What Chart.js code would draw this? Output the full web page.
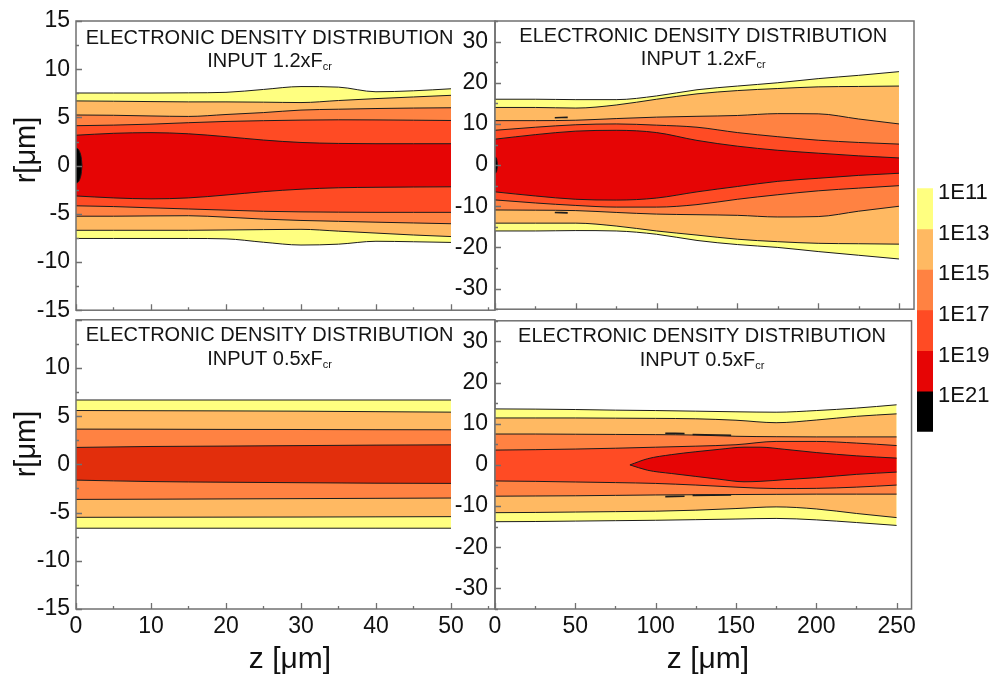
<!DOCTYPE html>
<html>
<head>
<meta charset="utf-8">
<title>Electronic density distribution</title>
<script src="https://cdn.jsdelivr.net/npm/chart.js@4.4.1/dist/chart.umd.min.js"></script>
<style>
  html, body { margin: 0; padding: 0; background: #fff; }
  #page { position: relative; width: 994px; height: 677px; overflow: hidden; background: #fff; }
  #page canvas { position: absolute; }
  .axis-title { position: absolute; font-family: "Liberation Sans", Arial, sans-serif; color: #111; white-space: nowrap; line-height: 1; }
</style>
</head>
<body>
<div id="page">
  <canvas id="tl" width="500" height="330" style="left:0;top:0"></canvas>
  <canvas id="bl" width="500" height="377" style="left:0;top:300px"></canvas>
  <canvas id="tr" width="480" height="330" style="left:440px;top:0"></canvas>
  <canvas id="br" width="480" height="377" style="left:440px;top:300px"></canvas>
  <canvas id="bar" width="89" height="280" style="left:905px;top:170px"></canvas>
  <div class="axis-title" style="font-size:29px;left:25px;top:150px;transform:translate(-50%,-50%) rotate(-90deg)">r[μm]</div>
  <div class="axis-title" style="font-size:29px;left:25px;top:444px;transform:translate(-50%,-50%) rotate(-90deg)">r[μm]</div>
  <div class="axis-title" style="font-size:30px;left:290px;top:658px;transform:translate(-50%,-50%)">z [μm]</div>
  <div class="axis-title" style="font-size:30px;left:708px;top:658px;transform:translate(-50%,-50%)">z [μm]</div>
</div>
<script>
// --- contour data: r [μm] of each iso-density line, outermost level first ---
const levelLabels = ['1E11', '1E13', '1E15', '1E17', '1E19', '1E21'];
const levelExp = [11, 13, 15, 17, 19, 21];

// input 1.2xFcr, z = 0..50 μm
const zTL = [0, 5, 10, 15, 20, 25, 30, 35, 40, 45, 50];
const tlUpper = [
  [7.53, 7.53, 7.53, 7.55, 7.6, 7.9, 8.2, 8.14, 7.66, 7.76, 7.97],
  [6.71, 6.68, 6.64, 6.61, 6.61, 6.58, 6.54, 6.75, 6.95, 7.12, 7.29],
  [5.25, 5.22, 5.15, 5.1, 5.3, 5.5, 5.76, 5.85, 5.92, 5.97, 6.0],
  [4.14, 4.2, 4.3, 4.45, 4.58, 4.66, 4.72, 4.75, 4.74, 4.71, 4.68],
  [3.15, 3.35, 3.42, 3.3, 3.0, 2.65, 2.4, 2.3, 2.27, 2.27, 2.27]
];
const tlLower = [
  [-7.56, -7.56, -7.56, -7.56, -7.6, -7.95, -8.24, -8.15, -7.85, -7.9, -7.97],
  [-6.71, -6.71, -6.71, -6.71, -6.68, -6.64, -6.61, -6.8, -7.0, -7.2, -7.36],
  [-5.25, -5.25, -5.22, -5.2, -5.35, -5.55, -5.69, -5.78, -5.87, -5.95, -6.03],
  [-4.17, -4.25, -4.38, -4.5, -4.62, -4.74, -4.8, -4.83, -4.85, -4.85, -4.85],
  [-3.15, -3.35, -3.45, -3.35, -3.05, -2.7, -2.45, -2.3, -2.25, -2.22, -2.2]
];
// 1E21 core at the entrance face
const zTLCore = [0, 0.3, 0.55, 0.7, 0.8];
const tlCoreUpper = [1.8, 1.7, 1.3, 0.8, 0];
const tlCoreLower = [-1.8, -1.7, -1.3, -0.8, 0];

// input 1.2xFcr, z = 0..250 μm
const zTR = [0, 25, 50, 75, 100, 125, 150, 175, 200, 225, 250];
const trUpper = [
  [16.0, 16.0, 15.9, 15.9, 16.8, 18.3, 19.2, 20.0, 21.0, 21.8, 22.7],
  [14.0, 14.0, 13.85, 14.6, 16.0, 17.3, 18.1, 18.6, 19.0, 19.1, 19.2],
  [10.8, 10.8, 10.9, 11.3, 11.65, 11.85, 12.05, 12.5, 12.45, 11.2, 10.0],
  [8.46, 9.2, 9.8, 10.0, 9.7, 9.2, 7.9, 6.9, 6.05, 5.5, 5.1],
  [6.3, 7.4, 8.25, 8.45, 7.9, 6.0, 4.6, 3.6, 2.9, 2.25, 1.74]
];
const trLower = [
  [-16.0, -16.0, -15.9, -16.0, -16.8, -18.3, -19.3, -20.0, -21.0, -21.9, -22.8],
  [-14.1, -14.1, -14.1, -14.8, -16.0, -17.0, -18.0, -18.6, -19.0, -19.1, -19.2],
  [-10.9, -10.95, -11.05, -11.5, -11.9, -12.05, -12.2, -12.6, -12.5, -11.2, -10.0],
  [-8.46, -9.2, -9.8, -10.2, -10.2, -9.6, -8.3, -7.2, -6.25, -5.6, -5.0],
  [-6.5, -7.5, -8.3, -8.5, -8.0, -6.5, -5.2, -3.95, -3.2, -2.5, -1.98]
];
const zTRCore = [0, 1, 1.6];
const trCoreUpper = [2.0, 1.5, 0];
const trCoreLower = [-2.0, -1.5, 0];
// small closed 1E15 islands
const zTRIsland = [37, 45];
const trIslandUpper = [11.5, 11.6];
const trIslandLower = [-11.5, -11.6];

// input 0.5xFcr, z = 0..50 μm
const zBL = [0, 10, 20, 30, 40, 50];
const blUpper = [
  [6.68, 6.68, 6.68, 6.68, 6.68, 6.68],
  [5.59, 5.57, 5.55, 5.52, 5.47, 5.42],
  [3.66, 3.65, 3.63, 3.62, 3.6, 3.59],
  [1.76, 1.86, 1.9, 1.95, 2.0, 2.03]
];
const blLower = [
  [-6.62, -6.62, -6.62, -6.62, -6.62, -6.62],
  [-5.49, -5.48, -5.47, -5.46, -5.44, -5.42],
  [-3.63, -3.61, -3.58, -3.55, -3.52, -3.49],
  [-1.63, -1.78, -1.85, -1.9, -1.95, -1.97]
];

// input 0.5xFcr, z = 0..250 μm
const zBR = [0, 25, 50, 75, 100, 125, 150, 175, 200, 225, 250];
const brUpper = [
  [13.6, 13.55, 13.45, 13.3, 13.2, 13.05, 12.9, 12.8, 13.2, 13.8, 14.6],
  [11.4, 11.4, 11.4, 11.35, 11.3, 11.2, 10.85, 10.25, 10.9, 11.8, 12.4],
  [7.5, 7.5, 7.45, 7.4, 7.35, 7.25, 6.95, 6.85, 6.8, 6.8, 6.8],
  [3.6, 3.7, 3.85, 4.05, 4.3, 4.55, 4.9, 5.7, 5.7, 5.3, 4.7]
];
const brLower = [
  [-13.8, -13.75, -13.65, -13.55, -13.45, -13.3, -13.15, -13.0, -13.35, -14.0, -14.7],
  [-11.6, -11.55, -11.45, -11.35, -11.25, -11.0, -10.6, -10.2, -10.7, -11.8, -12.8],
  [-7.6, -7.55, -7.5, -7.4, -7.3, -7.25, -7.2, -7.15, -7.1, -7.1, -7.1],
  [-3.9, -4.0, -4.15, -4.3, -4.5, -4.9, -5.4, -5.75, -5.7, -5.4, -4.9]
];
// 1E19 lens that opens after z ≈ 84 μm
const zBRLens = [84, 95, 110, 125, 140, 155, 165, 180, 200, 225, 250];
const brLensUpper = [0, 1.5, 2.5, 3.2, 3.8, 4.3, 4.3, 3.8, 3.0, 2.2, 1.65];
const brLensLower = [0, -1.3, -2.1, -2.8, -3.5, -4.1, -4.0, -3.6, -3.1, -2.3, -1.75];
const zBRIslandA = [106, 118];
const zBRIslandB = [123, 147];
const brIslandAUpper = [7.7, 7.6];
const brIslandBUpper = [7.4, 7.2];
const brIslandALower = [-7.7, -7.6];
const brIslandBLower = [-7.4, -7.3];

// axis ticks
const zTicksLeft = [0, 10, 20, 30, 40, 50];
const zTicksRight = [0, 50, 100, 150, 200, 250];
const rTicksLeftTop = [15, 10, 5, 0, -5, -10, -15];
const rTicksLeftBottom = [10, 5, 0, -5, -10, -15];
const rTicksRight = [30, 20, 10, 0, -10, -20, -30];

// --- styling ---
const FONT = '"Liberation Sans", Arial, Helvetica, sans-serif';
const LINE = '#1c1c1c';
const FRAME = '#707070';
const bandColors = ['#FFFF80', '#FFB962', '#FF8242', '#FF4B24', '#E60505', '#000000'];
const lowBandColors = ['#FFFF80', '#FFB962', '#FF8242', '#E22E0C'];
const TITLE = 'ELECTRONIC DENSITY DISTRIBUTION';

function lineSet(z, r, extra) {
  return Object.assign({
    data: z.map((v, i) => ({ x: v, y: r[i] })),
    borderColor: LINE,
    borderWidth: 1,
    pointRadius: 0,
    cubicInterpolationMode: 'monotone',
    fill: false
  }, extra);
}

// upper line filled down to its lower partner
function addBand(sets, z, up, lo, color, order) {
  const i = sets.length;
  sets.push(lineSet(z, up, { fill: i + 1, backgroundColor: color, order }));
  sets.push(lineSet(z, lo, { order }));
}

function contourSets(z, upper, lower, colors) {
  const sets = [];
  upper.forEach((row, k) => addBand(sets, z, row, lower[k], colors[k], upper.length - k + 1));
  return sets;
}

// frame box + inward tick marks
const panelFrame = {
  id: 'panelFrame',
  afterDatasetsDraw(chart, args, o) {
    const { ctx, chartArea: a, scales: { x, y } } = chart;
    const isMajor = (v, step) => Math.abs(v / step - Math.round(v / step)) < 1e-6;
    ctx.save();
    ctx.strokeStyle = FRAME;
    ctx.lineWidth = 1.3;
    ctx.beginPath();
    for (let v = x.min; v <= x.max + 1e-6; v += o.zMinor) {
      const px = Math.round(x.getPixelForValue(v)) + 0.5;
      const len = isMajor(v, o.zMajor) ? 6 : 3;
      ctx.moveTo(px, a.bottom);
      ctx.lineTo(px, a.bottom - len);
    }
    for (let v = Math.ceil(y.min / o.rMinor) * o.rMinor; v <= y.max + 1e-6; v += o.rMinor) {
      const py = Math.round(y.getPixelForValue(v)) + 0.5;
      const len = isMajor(v, o.rMajor) ? 6 : 3;
      ctx.moveTo(a.left, py);
      ctx.lineTo(a.left + len, py);
    }
    ctx.stroke();
    ctx.lineWidth = 1.5;
    ctx.strokeRect(a.left, a.top, a.right - a.left, a.bottom - a.top);
    ctx.restore();
  }
};

// two-line heading inside the plot, with the "cr" subscript
const panelTitle = {
  id: 'panelTitle',
  afterDraw(chart, args, o) {
    const { ctx, chartArea: a } = chart;
    const cx = a.left + (a.right - a.left) * o.center;
    ctx.save();
    ctx.fillStyle = '#151515';
    ctx.textBaseline = 'middle';
    ctx.textAlign = 'center';
    ctx.font = '20px ' + FONT;
    ctx.fillText(TITLE, cx, a.top + o.dy);
    const w1 = ctx.measureText(o.input).width;
    ctx.font = '11px ' + FONT;
    const w2 = ctx.measureText('cr').width;
    const x0 = cx - (w1 + w2) / 2;
    ctx.textAlign = 'left';
    ctx.fillText('cr', x0 + w1, a.top + o.dy + 29);
    ctx.font = '20px ' + FONT;
    ctx.fillText(o.input, x0, a.top + o.dy + 23.5);
    ctx.restore();
  }
};

function tickFont() {
  return { family: FONT, size: 23 };
}

function makePanel(id, cfg) {
  new Chart(document.getElementById(id), {
    type: 'line',
    data: { datasets: cfg.sets },
    plugins: [panelFrame, panelTitle],
    options: {
      responsive: false,
      animation: false,
      events: [],
      layout: { padding: cfg.padding },
      plugins: {
        legend: { display: false },
        tooltip: { enabled: false },
        filler: { drawTime: 'beforeDatasetsDraw', propagate: false },
        panelFrame: { zMinor: cfg.zMinor, zMajor: cfg.zMajor, rMinor: cfg.rMinor, rMajor: cfg.rMajor },
        panelTitle: { center: cfg.titleCenter, dy: cfg.titleDy, input: cfg.input }
      },
      scales: {
        x: {
          type: 'linear',
          min: 0,
          max: cfg.zMax,
          afterBuildTicks: s => { s.ticks = cfg.zTicks.map(v => ({ value: v })); },
          afterFit: s => { s.height = cfg.xHeight; },
          grid: { display: false, drawTicks: false },
          border: { display: false },
          ticks: { display: cfg.showZ, autoSkip: false, maxRotation: 0, padding: 4, color: '#111', font: tickFont() }
        },
        y: {
          type: 'linear',
          min: -cfg.rMax,
          max: cfg.rMax,
          afterBuildTicks: s => { s.ticks = cfg.rTicks.map(v => ({ value: v })); },
          afterFit: s => { s.width = cfg.yWidth; },
          grid: { display: false, drawTicks: false },
          border: { display: false },
          ticks: { autoSkip: false, padding: cfg.yPad, color: '#111', font: tickFont() }
        }
      }
    }
  });
}

// --- top left: 1.2xFcr, short range ---
const tlSets = contourSets(zTL, tlUpper, tlLower, bandColors);
addBand(tlSets, zTLCore, tlCoreUpper, tlCoreLower, bandColors[5], 0);
makePanel('tl', {
  sets: tlSets, zMax: 55.87, rMax: 15, zTicks: zTicksLeft, rTicks: rTicksLeftTop,
  zMinor: 5, zMajor: 10, rMinor: 2.5, rMajor: 5, showZ: false,
  padding: { left: 0, top: 21, right: 5, bottom: 0 }, yWidth: 76, xHeight: 15, yPad: 6,
  titleCenter: 0.462, titleDy: 17, input: 'INPUT 1.2xF'
});

// --- top right: 1.2xFcr, long range ---
const trSets = contourSets(zTR, trUpper, trLower, bandColors);
addBand(trSets, zTRCore, trCoreUpper, trCoreLower, bandColors[5], 0);
trSets.push(lineSet(zTRIsland, trIslandUpper, { borderWidth: 1.6, order: -1 }));
trSets.push(lineSet(zTRIsland, trIslandLower, { borderWidth: 1.6, order: -1 }));
makePanel('tr', {
  sets: trSets, zMax: 259.3, rMax: 35, zTicks: zTicksRight, rTicks: rTicksRight,
  zMinor: 25, zMajor: 50, rMinor: 5, rMajor: 10, showZ: false,
  padding: { left: 0, top: 21, right: 6, bottom: 0 }, yWidth: 55, xHeight: 15, yPad: 7,
  titleCenter: 0.497, titleDy: 15, input: 'INPUT 1.2xF'
});

// --- bottom left: 0.5xFcr, short range ---
makePanel('bl', {
  sets: contourSets(zBL, blUpper, blLower, lowBandColors), zMax: 55.87, rMax: 15,
  zTicks: zTicksLeft, rTicks: rTicksLeftBottom,
  zMinor: 5, zMajor: 10, rMinor: 2.5, rMajor: 5, showZ: true,
  padding: { left: 0, top: 15, right: 5, bottom: 0 }, yWidth: 76, xHeight: 68, yPad: 6,
  titleCenter: 0.462, titleDy: 16, input: 'INPUT 0.5xF'
});

// --- bottom right: 0.5xFcr, long range ---
const brSets = contourSets(zBR, brUpper, brLower, bandColors);
addBand(brSets, zBRLens, brLensUpper, brLensLower, bandColors[4], 0);
brSets.push(lineSet(zBRIslandA, brIslandAUpper, { borderWidth: 1.6, order: -1 }));
brSets.push(lineSet(zBRIslandB, brIslandBUpper, { borderWidth: 1.6, order: -1 }));
brSets.push(lineSet(zBRIslandA, brIslandALower, { borderWidth: 1.6, order: -1 }));
brSets.push(lineSet(zBRIslandB, brIslandBLower, { borderWidth: 1.6, order: -1 }));
makePanel('br', {
  sets: brSets, zMax: 259.3, rMax: 35, zTicks: zTicksRight, rTicks: rTicksRight,
  zMinor: 25, zMajor: 50, rMinor: 5, rMajor: 10, showZ: true,
  padding: { left: 0, top: 15, right: 6, bottom: 0 }, yWidth: 55, xHeight: 68, yPad: 7,
  titleCenter: 0.497, titleDy: 16, input: 'INPUT 0.5xF'
});

// --- colour key: one floating bar per decade pair ---
new Chart(document.getElementById('bar'), {
  type: 'bar',
  data: {
    labels: ['n'],
    datasets: levelExp.map((e, k) => ({
      data: [[e, e + 2]],
      backgroundColor: bandColors[k],
      borderWidth: 0,
      grouped: false,
      barPercentage: 1,
      categoryPercentage: 1
    }))
  },
  options: {
    responsive: false,
    animation: false,
    events: [],
    layout: { padding: { left: 12, top: 18, bottom: 16, right: 0 } },
    plugins: { legend: { display: false }, tooltip: { enabled: false } },
    scales: {
      x: { display: false },
      y: {
        position: 'right',
        reverse: true,
        min: 11,
        max: 23,
        afterBuildTicks: s => { s.ticks = levelExp.map(v => ({ value: v })); },
        afterFit: s => { s.width = 61; },
        grid: { display: false, drawTicks: false },
        border: { display: false },
        ticks: {
          autoSkip: false,
          padding: 5,
          labelOffset: 5,
          color: '#111',
          font: { family: FONT, size: 22 },
          callback: v => levelLabels[levelExp.indexOf(v)]
        }
      }
    }
  }
});
</script>
</body>
</html>
